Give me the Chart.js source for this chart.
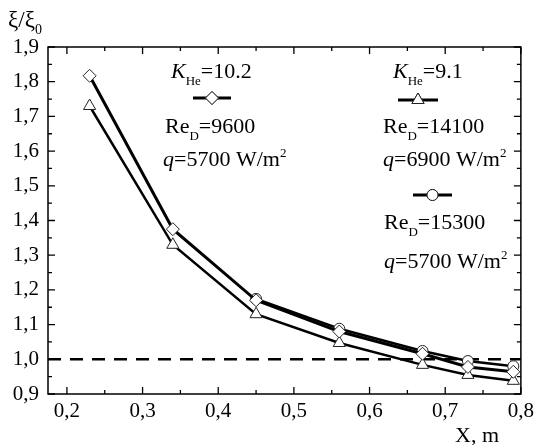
<!DOCTYPE html>
<html>
<head>
<meta charset="utf-8">
<script src="https://cdn.jsdelivr.net/npm/chart.js@4/dist/chart.umd.min.js"></script>
<style>
html,body{margin:0;padding:0;background:#fff;}
#wrap{width:539px;height:445px;position:relative;}
</style>
</head>
<body>
<div id="wrap"><canvas id="c" width="539" height="445"></canvas></div>
<script>
// ---- data ----
const xPositions = [0.23, 0.34, 0.45, 0.56, 0.67, 0.73, 0.79];
const diamondValues = [1.817, 1.375, 1.170, 1.080, 1.016, 0.978, 0.964];
const triangleValues = [1.730, 1.330, 1.130, 1.047, 0.984, 0.955, 0.938];
const circleX = [0.45, 0.56, 0.67, 0.73, 0.79];
const circleValues = [1.174, 1.088, 1.024, 0.995, 0.980];
const xTickValues = [0.2, 0.3, 0.4, 0.5, 0.6, 0.7, 0.8];
const yTickValues = [0.9, 1.0, 1.1, 1.2, 1.3, 1.4, 1.5, 1.6, 1.7, 1.8, 1.9];
const refLevel = [1.0];

const FONT = "'Liberation Serif', 'Times New Roman', serif";
const toPts = (xs, ys) => xs.map((x, i) => ({x: x, y: ys[i]}));

const seriesStyle = {
  diamond: {pointStyle: 'rectRot', radius: 6.5, lw: 3},
  triangle: {pointStyle: 'triangle', radius: 7, lw: 2.5},
  circle: {pointStyle: 'circle', radius: 5.5, lw: 2.5}
};

function drawRich(ctx, x, y, parts, size) {
  let cx = x;
  for (const p of parts) {
    const fs = (p.sub || p.sup) ? Math.round(size * 0.6) : size;
    ctx.font = (p.italic ? 'italic ' : '') + fs + 'px ' + FONT;
    let dy = 0;
    if (p.sub) dy = size * 0.32;
    if (p.sup) dy = -size * 0.42;
    ctx.fillText(p.t, cx, y + dy);
    cx += ctx.measureText(p.t).width;
  }
}

const overlay = {
  id: 'overlay',
  beforeDatasetsDraw(chart) {
    const ctx = chart.ctx, a = chart.chartArea;
    const ys = chart.scales.y;
    ctx.save();
    ctx.strokeStyle = '#000';
    ctx.lineWidth = 2.5;
    ctx.setLineDash([13, 9]);
    for (const v of refLevel) {
      const py = ys.getPixelForValue(v);
      ctx.beginPath();
      ctx.moveTo(a.left, py);
      ctx.lineTo(a.right, py);
      ctx.stroke();
    }
    ctx.restore();
  },
  afterDraw(chart) {
    const ctx = chart.ctx, a = chart.chartArea;
    const xs = chart.scales.x, ys = chart.scales.y;
    ctx.save();
    ctx.strokeStyle = '#000';
    ctx.lineWidth = 1.5;
    ctx.strokeRect(a.left, a.top, a.right - a.left, a.bottom - a.top);
    ctx.lineWidth = 1.3;
    ctx.beginPath();
    const xmax = xs.max;
    for (let i = 0; i < xTickValues.length; i++) {
      const v = xTickValues[i];
      const px = xs.getPixelForValue(v);
      ctx.moveTo(px, a.bottom); ctx.lineTo(px, a.bottom - 7);
      ctx.moveTo(px, a.top); ctx.lineTo(px, a.top + 7);
      const m = v + 0.05;
      if (m < xmax - 1e-9) {
        const pm = xs.getPixelForValue(m);
        ctx.moveTo(pm, a.bottom); ctx.lineTo(pm, a.bottom - 4);
        ctx.moveTo(pm, a.top); ctx.lineTo(pm, a.top + 4);
      }
    }
    for (let i = 0; i < yTickValues.length; i++) {
      const v = yTickValues[i];
      const py = ys.getPixelForValue(v);
      ctx.moveTo(a.left, py); ctx.lineTo(a.left + 7, py);
      ctx.moveTo(a.right, py); ctx.lineTo(a.right - 7, py);
      const m = v + 0.05;
      if (m < ys.max - 1e-9) {
        const pm = ys.getPixelForValue(m);
        ctx.moveTo(a.left, pm); ctx.lineTo(a.left + 4, pm);
        ctx.moveTo(a.right, pm); ctx.lineTo(a.right - 4, pm);
      }
    }
    ctx.stroke();

    ctx.fillStyle = '#000';
    ctx.textBaseline = 'alphabetic';
    ctx.textAlign = 'left';
    drawRich(ctx, 8, 27, [{t: 'ξ/ξ'}, {t: '0', sub: true}], 23);
    drawRich(ctx, 455, 442, [{t: 'X, m'}], 22);

    const sample = (x1, x2, y, st, lw) => {
      ctx.strokeStyle = '#000';
      ctx.lineWidth = lw;
      ctx.setLineDash([]);
      ctx.beginPath(); ctx.moveTo(x1, y); ctx.lineTo(x2, y); ctx.stroke();
      ctx.fillStyle = '#fff';
      ctx.strokeStyle = '#222';
      ctx.lineWidth = 1;
      Chart.helpers.drawPoint(ctx, {pointStyle: st.pointStyle, radius: st.radius, borderWidth: 1}, (x1 + x2) / 2, y);
      ctx.fill(); ctx.stroke();
      ctx.fillStyle = '#000';
    };
    sample(193, 231, 98, seriesStyle.diamond, 3);
    sample(398, 438, 100, seriesStyle.triangle, 3);
    sample(413, 452, 195, seriesStyle.circle, 3);

    ctx.fillStyle = '#000';
    drawRich(ctx, 171, 78, [{t: 'K', italic: true}, {t: 'He', sub: true}, {t: '=10.2'}], 22);
    drawRich(ctx, 165, 133, [{t: 'Re'}, {t: 'D', sub: true}, {t: '=9600'}], 22);
    drawRich(ctx, 163, 166, [{t: 'q', italic: true}, {t: '=5700 W/m'}, {t: '2', sup: true}], 22);

    drawRich(ctx, 393, 78, [{t: 'K', italic: true}, {t: 'He', sub: true}, {t: '=9.1'}], 22);
    drawRich(ctx, 383, 133, [{t: 'Re'}, {t: 'D', sub: true}, {t: '=14100'}], 22);
    drawRich(ctx, 383, 166, [{t: 'q', italic: true}, {t: '=6900 W/m'}, {t: '2', sup: true}], 22);

    drawRich(ctx, 384, 229, [{t: 'Re'}, {t: 'D', sub: true}, {t: '=15300'}], 22);
    drawRich(ctx, 384, 268, [{t: 'q', italic: true}, {t: '=5700 W/m'}, {t: '2', sup: true}], 22);
    ctx.restore();
  }
};

const mkDs = (data, st) => ({
  data: data,
  borderColor: '#000',
  borderWidth: st.lw,
  pointStyle: st.pointStyle,
  pointRadius: st.radius,
  pointBackgroundColor: '#fff',
  pointBorderColor: '#222',
  pointBorderWidth: 1,
  tension: 0,
  showLine: true,
  fill: false
});

new Chart(document.getElementById('c'), {
  type: 'scatter',
  data: {
    datasets: [
      mkDs(toPts(xPositions, diamondValues), seriesStyle.diamond),
      mkDs(toPts(circleX, circleValues), seriesStyle.circle),
      mkDs(toPts(xPositions, triangleValues), seriesStyle.triangle)
    ]
  },
  options: {
    responsive: false,
    animation: false,
    events: [],
    layout: {padding: {top: 47, right: 14, left: 0, bottom: 0}},
    plugins: {legend: {display: false}, tooltip: {enabled: false}},
    scales: {
      x: {
        type: 'linear', min: 0.175, max: 0.8,
        grid: {display: false, drawTicks: false},
        border: {display: false},
        afterBuildTicks: s => { s.ticks = xTickValues.map(v => ({value: v})); },
        afterFit: s => { s.height = 51; },
        ticks: {
          color: '#000', padding: 5, maxRotation: 0, autoSkip: false,
          font: {family: FONT, size: 21},
          callback: v => v.toFixed(1).replace('.', ',')
        }
      },
      y: {
        type: 'linear', min: 0.9, max: 1.9,
        grid: {display: false, drawTicks: false},
        border: {display: false},
        afterBuildTicks: s => { s.ticks = yTickValues.map(v => ({value: v})); },
        afterFit: s => { s.width = 48; },
        ticks: {
          color: '#000', padding: 9, autoSkip: false,
          font: {family: FONT, size: 21},
          callback: v => v.toFixed(1).replace('.', ',')
        }
      }
    }
  },
  plugins: [overlay]
});
</script>
</body>
</html>
